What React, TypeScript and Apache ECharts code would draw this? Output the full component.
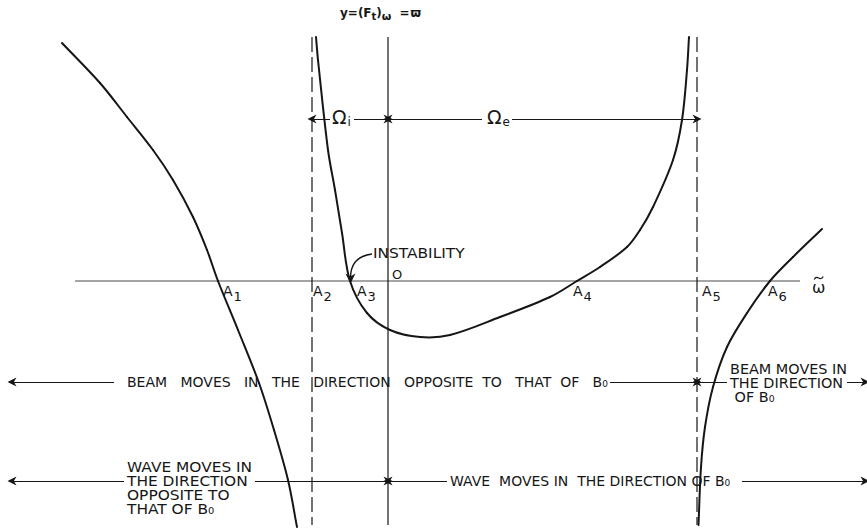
import { useEffect, useRef } from 'react';
import * as echarts from 'echarts';

const W = 867;
const H = 529;
const FONT = '"DejaVu Sans", "Liberation Sans", sans-serif';
const INK = '#161616';

// Diagram window in its own units: ω̃ horizontally, y = (F_t)ω vertically.
const X_MIN = -38.8;
const X_MAX = 47.9;
const Y_MIN = -24.8;
const Y_MAX = 28.1;

// Marked points on the ω̃ axis (A1 … A6)
const rootNames = ['1', '2', '3', '4', '5', '6'];
const rootX = [-17.0, -7.6, -3.8, 18.9, 30.9, 38.2];

// Resonances (dashed asymptotes) and drawn extents of the axes
const asymptoteX = [-7.6, 30.9];
const axisExtent = [-31.3, 41.2];
const verticalExtent = [-24.4, 24.4];

// Branches of y(ω̃)
const leftBranch = [
  [-32.6, 23.8], [-28.8, 19.8], [-26.1, 16.4], [-23.5, 13.1], [-21.5, 10.1],
  [-19.5, 6.4], [-18.1, 3.1], [-17.0, 0], [-15.0, -4.9], [-12.9, -10.2],
  [-11.4, -14.9], [-10.0, -19.9], [-9.1, -24.6],
];
const middleBranch = [
  [-7.2, 24.4], [-7.0, 22.1], [-6.0, 13.1], [-5.3, 9.1], [-4.6, 4.8],
  [-3.8, 0], [-2.1, -3.2], [0.2, -4.9], [3.2, -5.6], [6.2, -5.4],
  [11.2, -3.6], [16.2, -1.6], [18.9, 0], [21.2, 1.4], [23.9, 3.4],
  [25.2, 5.1], [26.5, 7.4], [28.5, 12.1], [29.4, 16.1], [29.9, 21.1], [30.1, 24.4],
];
const rightBranch = [
  [31.05, -24.4], [31.3, -18.6], [31.7, -14.6], [32.5, -10.6], [33.9, -6.6],
  [35.9, -3.2], [38.2, 0], [40.5, 2.4], [43.4, 5.2],
];
const branches = [leftBranch, middleBranch, rightBranch];

// Levels of the dimension lines
const omegaLevel = 16.2;
const beamLevel = -10.1;
const waveLevel = -20.0;

// Dimension arrows as [tail, head]
const arrowSegments = [
  [[-5.8, omegaLevel], [asymptoteX[0], omegaLevel]],
  [[-3.4, omegaLevel], [0, omegaLevel]],
  [[9.4, omegaLevel], [0, omegaLevel]],
  [[12.4, omegaLevel], [asymptoteX[1], omegaLevel]],
  [[-27.4, beamLevel], [-37.6, beamLevel]],
  [[22.2, beamLevel], [asymptoteX[1], beamLevel]],
  [[33.9, beamLevel], [asymptoteX[1], beamLevel]],
  [[45.9, beamLevel], [47.7, beamLevel]],
  [[-26.4, waveLevel], [-37.6, waveLevel]],
  [[-13.3, waveLevel], [0, waveLevel]],
  [[5.9, waveLevel], [0, waveLevel]],
  [[35.4, waveLevel], [47.7, waveLevel]],
];
const instabilityArrow = [[-1.6, 2.7], [-3.75, 0.25]];

// Pixel nudges of the A-labels from their axis points
const rootLabelDx = [5, 1, 7, -4, 5, -2];

const ARROW = 'path://M5,0 L10,12 L5,8.5 L0,12 Z';

type Part = { t: string; size?: number; dx?: number; dy?: number; tilde?: boolean };
type Note = {
  at: number[];
  text?: string;
  parts?: Part[];
  dx?: number;
  dy?: number;
  size?: number;
  weight?: string;
  va?: string;
  lh?: number;
  sx?: number;
};

const measureCtx = typeof document !== 'undefined'
  ? document.createElement('canvas').getContext('2d')
  : null;
const measure = (t: string, size: number, weight: string) => {
  if (!measureCtx) return t.length * size * 0.6;
  measureCtx.font = `${weight} ${size}px ${FONT}`;
  return measureCtx.measureText(t).width;
};

const notes: Note[] = [
  {
    at: [-4.8, 27.4], weight: 'bold', size: 12,
    parts: [
      { t: 'y=(F' }, { t: 't', size: 10, dy: 4 }, { t: ')' },
      { t: 'ω', size: 11, dy: 4 }, { t: ' =', dx: 4 }, { t: 'ϖ', dx: 1 },
    ],
  },
  { at: [-5.6, 17.4], size: 19, parts: [{ t: 'Ω' }, { t: 'i', size: 12, dy: 9, dx: 1 }] },
  { at: [9.9, 17.4], size: 19, parts: [{ t: 'Ω' }, { t: 'e', size: 12, dy: 9, dx: 1 }] },
  { at: [-1.5, 2.8], text: 'INSTABILITY', size: 14, sx: 1.1 },
  { at: [0.4, 0.7], text: 'O', size: 13 },
  { at: [42.4, 0.2], size: 16, parts: [{ t: 'ω', tilde: true }] },
  ...rootX.map((x, i) => ({
    at: [x, 0], dx: rootLabelDx[i], dy: 3, size: 14,
    parts: [{ t: 'A' }, { t: rootNames[i], size: 13, dy: 6, dx: 1 }],
  })),
  { at: [-26.1, beamLevel], text: 'BEAM   MOVES   IN   THE   DIRECTION   OPPOSITE  TO   THAT  OF   B₀', size: 14, va: 'middle' },
  { at: [34.2, beamLevel], text: 'BEAM MOVES IN\nTHE DIRECTION\n OF B₀', size: 14, lh: 14, dy: 1, va: 'middle', sx: 1.03 },
  { at: [-26.1, waveLevel], text: 'WAVE MOVES IN\nTHE DIRECTION\nOPPOSITE TO\nTHAT OF B₀', size: 14, lh: 14, va: 'top', dy: -21, sx: 1.1 },
  { at: [6.2, waveLevel], text: 'WAVE  MOVES IN  THE DIRECTION OF B₀', size: 14, va: 'middle' },
];

const textStyle = (text: string, size: number, weight: string, va: string, lh?: number) => ({
  text,
  fill: INK,
  fontFamily: FONT,
  fontSize: size,
  fontWeight: weight,
  align: 'left',
  verticalAlign: va,
  lineHeight: lh,
});

const lineSeries = (data: number[][], width: number, type: any = 'solid', color = INK) => ({
  type: 'line',
  data,
  showSymbol: false,
  symbol: 'none',
  smooth: false,
  clip: false,
  silent: true,
  lineStyle: { color, width, type },
});

// Smooth curve through the projected points: cubic pieces whose tangents follow
// the neighbouring chord, scaled by each piece's own length (no overshoot).
const smoothPieces = (pts: number[][]) => {
  const pieces: any[] = [];
  const unit = (a: number[], b: number[]) => {
    const dx = b[0] - a[0];
    const dy = b[1] - a[1];
    const l = Math.hypot(dx, dy) || 1;
    return [dx / l, dy / l];
  };
  const tangents = pts.map((p, i) => unit(pts[Math.max(0, i - 1)], pts[Math.min(pts.length - 1, i + 1)]));
  for (let i = 0; i < pts.length - 1; i++) {
    const a = pts[i];
    const b = pts[i + 1];
    const len = Math.hypot(b[0] - a[0], b[1] - a[1]) / 3;
    pieces.push({
      type: 'bezierCurve',
      shape: {
        x1: a[0], y1: a[1], x2: b[0], y2: b[1],
        cpx1: a[0] + tangents[i][0] * len,
        cpy1: a[1] + tangents[i][1] * len,
        cpx2: b[0] - tangents[i + 1][0] * len,
        cpy2: b[1] - tangents[i + 1][1] * len,
      },
      style: { stroke: INK, fill: 'none', lineWidth: 2, lineCap: 'round' },
    });
  }
  return pieces;
};

export default function App() {
  const ref = useRef<HTMLDivElement>(null);

  useEffect(() => {
    if (!ref.current) return;
    const chart = echarts.init(ref.current, undefined, { renderer: 'svg' });
    chart.setOption({
      animation: false,
      backgroundColor: '#ffffff',
      grid: { left: 0, right: 0, top: 0, bottom: 0 },
      xAxis: { type: 'value', min: X_MIN, max: X_MAX, show: false },
      yAxis: { type: 'value', min: Y_MIN, max: Y_MAX, show: false },
      series: [
        // ω̃ axis and y axis
        lineSeries([[axisExtent[0], 0], [axisExtent[1], 0]], 1, 'solid', '#4a4a4a'),
        lineSeries([[0, verticalExtent[1]], [0, verticalExtent[0]]], 1.2),
        // resonance asymptotes
        ...asymptoteX.map((x) => lineSeries([[x, verticalExtent[1]], [x, verticalExtent[0]]], 1.2, [15, 5])),
        // the three branches of y(ω̃)
        {
          type: 'custom',
          silent: true,
          clip: false,
          z: 4,
          data: branches.map((b, i) => [b[0][0], b[0][1], i]),
          renderItem: (params: any, api: any) => {
            const branch = branches[api.value(2)];
            const pts = branch.map((pt) => api.coord(pt));
            return { type: 'group', children: smoothPieces(pts) };
          },
        },
        {
          type: 'lines',
          coordinateSystem: 'cartesian2d',
          silent: true,
          symbol: ['none', ARROW],
          symbolSize: [7, 9],
          lineStyle: { color: INK, width: 1, opacity: 1 },
          data: arrowSegments.map((coords) => ({ coords })),
          z: 3,
        },
        {
          type: 'lines',
          coordinateSystem: 'cartesian2d',
          silent: true,
          symbol: ['none', ARROW],
          symbolSize: [8, 10],
          lineStyle: { color: INK, width: 1.4, opacity: 1, curveness: -0.45 },
          data: [{ coords: instabilityArrow }],
          z: 5,
        },
        {
          type: 'custom',
          silent: true,
          clip: false,
          z: 10,
          data: notes.map((n) => n.at),
          renderItem: (params: any, api: any) => {
            const n = notes[params.dataIndex];
            const p = api.coord([api.value(0), api.value(1)]);
            const x0 = p[0] + (n.dx || 0);
            const y0 = p[1] + (n.dy || 0);
            const weight = n.weight || 'normal';
            const size = n.size || 14;
            if (n.parts) {
              let cx = x0;
              const children: any[] = [];
              n.parts.forEach((part) => {
                const s = part.size || size;
                const w = measure(part.t, s, weight);
                const px = cx + (part.dx || 0);
                const py = y0 + (part.dy || 0);
                children.push({
                  type: 'text',
                  x: px,
                  y: py,
                  style: textStyle(part.t, s, weight, 'top'),
                });
                if (part.tilde) {
                  // small wave over the glyph
                  const mx = px + w / 2;
                  const ty = py - 1;
                  children.push({
                    type: 'bezierCurve',
                    shape: {
                      x1: mx - 4.5, y1: ty + 1.5, x2: mx + 4.5, y2: ty - 1.5,
                      cpx1: mx - 1.5, cpy1: ty - 4.5, cpx2: mx + 1.5, cpy2: ty + 4.5,
                    },
                    style: { stroke: INK, fill: 'none', lineWidth: 1.3 },
                  });
                }
                cx = px + w;
              });
              return { type: 'group', children };
            }
            return {
              type: 'text',
              x: x0,
              y: y0,
              scaleX: n.sx || 1,
              style: textStyle(n.text || '', size, weight, n.va || 'middle', n.lh),
            };
          },
        },
      ],
    });
    return () => chart.dispose();
  }, []);

  return (
    <div
      ref={ref}
      style={{ position: 'fixed', left: 0, top: 0, width: W, height: H, background: '#fff' }}
    />
  );
}
